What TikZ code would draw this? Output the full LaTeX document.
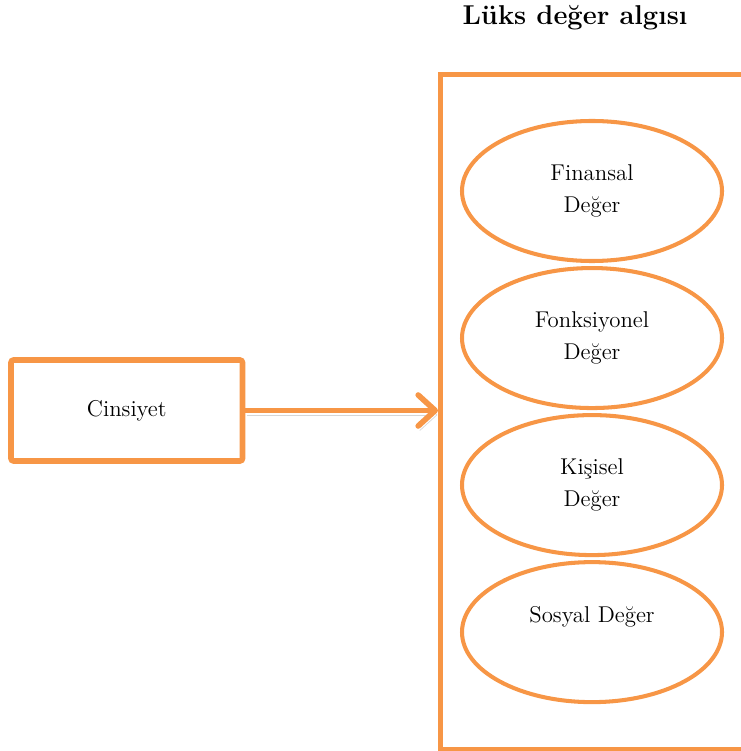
\documentclass[tikz,border=0pt]{standalone}
\usepackage{fontspec}
\usepackage{xcolor}
\usepackage{tikz}
\usetikzlibrary{arrows.meta, positioning, shapes.geometric}

\definecolor{lorange}{RGB}{247,150,70}

\begin{document}
\begin{tikzpicture}[
    cinbox/.style={rectangle, rounded corners=1.5pt, draw=lorange, line width=3.2pt, minimum width=4.63cm, minimum height=2.02cm, font=\fontsize{13}{18}\selectfont},
    valbox/.style={ellipse, draw=lorange, line width=2.3pt, minimum width=5.2cm, minimum height=2.8cm, align=center, inner sep=0pt, font=\fontsize{13}{18}\selectfont},
    framebox/.style={rectangle, draw=lorange, line width=2.9pt, minimum width=7cm, minimum height=13.49cm, anchor=north west},
    arrow/.style={-{Straight Barb[length=3.4mm, width=6.2mm, line cap=round, line join=round]}, line width=3.2pt, lorange,
        preaction={draw=black!40, opacity=0.4, transform canvas={xshift=1pt, yshift=-2.5pt}}},
    title/.style={font=\fontsize{15.5}{18}\selectfont\bfseries},
]
\useasboundingbox (0,0) rectangle (14.82,-15.02);
\clip (0,0) rectangle (14.82,-15.02);

\node[title] (ttl) at (11.5,-0.36) {Lüks değer algısı};
\node[framebox] (frame) at (8.76,-1.44) {};

\node[valbox] (fin) at (11.84,-3.82) {Finansal\\Değer};
\node[valbox, below=0.06cm of fin] (fonk) {Fonksiyonel\\Değer};
\node[valbox, below=0.06cm of fonk] (kis) {Kişisel\\Değer};
\node[valbox, below=0.06cm of kis] (sos) {Sosyal Değer\\\phantom{Değer}};

\node[cinbox] (cin) at (2.535,-8.21) {Cinsiyet};

\draw[arrow] (cin.east) -- (cin.east -| frame.west);
\end{tikzpicture}
\end{document}
